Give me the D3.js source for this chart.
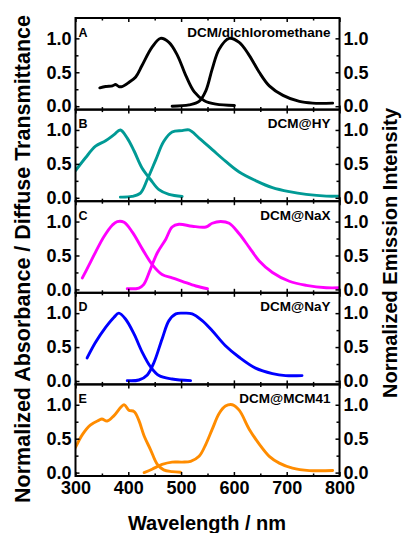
<!DOCTYPE html>
<html>
<head>
<meta charset="utf-8">
<script src="https://cdn.jsdelivr.net/npm/d3@7"></script>
<style>
    body { margin: 0; background: #fff; }
    text { font-family: "Liberation Sans", Arial, sans-serif; font-weight: bold; }
</style>
</head>
<body>
<div id="plot"></div>
<script>
// ---- data ----
var panelLetters = ["A", "B", "C", "D", "E"];
var panelNames = ["DCM/dichloromethane", "DCM@HY", "DCM@NaX", "DCM@NaY", "DCM@MCM41"];
var panelColors = ["#000000", "#009a95", "#ff00ff", "#0000ff", "#ff8c00"];

var xTicks = [300, 400, 500, 600, 700, 800];
var xMinorTicks = [350, 450, 550, 650, 750];
var yTicks = [0, 0.5, 1.0];
var yMinorTicks = [0.25, 0.75];

// absorbance / diffuse transmittance, [nm, value]
var absA = [[346, 0.27], [357, 0.29], [370, 0.30], [376, 0.32], [382, 0.29], [388, 0.29], [401, 0.35],
    [414, 0.43], [426, 0.60], [445, 0.87], [461, 1.0], [477, 0.94], [493, 0.75], [509, 0.45],
    [525, 0.21], [544, 0.08], [566, 0.03], [601, 0.01]];
var absB = [[300, 0.40], [319, 0.59], [338, 0.76], [357, 0.84], [373, 0.93], [385, 1.0], [398, 0.88],
    [411, 0.69], [426, 0.44], [442, 0.27], [458, 0.12], [477, 0.05], [502, 0.02]];
var absC = [[313, 0.17], [325, 0.35], [338, 0.55], [354, 0.78], [370, 0.95], [379, 1.0], [392, 0.99],
    [408, 0.84], [427, 0.59], [445, 0.37], [464, 0.22], [483, 0.17], [502, 0.12], [528, 0.05], [550, 0.01]];
var absD = [[322, 0.34], [338, 0.57], [357, 0.79], [373, 0.94], [382, 1.0], [395, 0.91], [411, 0.69],
    [426, 0.43], [442, 0.21], [458, 0.08], [483, 0.03], [518, 0.005]];
var absE = [[300, 0.37], [313, 0.56], [328, 0.70], [344, 0.77], [350, 0.79], [360, 0.76], [373, 0.84],
    [392, 1.0], [401, 0.92], [411, 0.90], [420, 0.77], [430, 0.54], [442, 0.34], [455, 0.12],
    [467, 0.04], [483, 0.015], [499, 0.005]];

// normalized emission intensity, [nm, value]
var emA = [[483, 0.0], [515, 0.02], [534, 0.07], [547, 0.23], [559, 0.55], [572, 0.84], [591, 1.0],
    [610, 0.94], [629, 0.75], [648, 0.50], [667, 0.30], [693, 0.16], [724, 0.07], [749, 0.045], [787, 0.045]];
var emB = [[385, 0.01], [407, 0.02], [423, 0.07], [436, 0.27], [452, 0.56], [467, 0.83], [483, 0.97],
    [502, 0.99], [515, 1.0], [534, 0.88], [559, 0.71], [584, 0.54], [610, 0.38], [642, 0.25],
    [673, 0.15], [705, 0.09], [737, 0.05], [775, 0.025], [800, 0.025]];
var emC = [[398, 0.01], [420, 0.02], [429, 0.07], [442, 0.30], [455, 0.54], [471, 0.74], [483, 0.92],
    [496, 0.96], [521, 0.93], [547, 0.92], [559, 0.975], [575, 1.0], [591, 0.975], [610, 0.82],
    [629, 0.62], [648, 0.42], [673, 0.25], [705, 0.12], [737, 0.06], [775, 0.025], [800, 0.025]];
var emD = [[398, 0.005], [420, 0.015], [436, 0.09], [449, 0.28], [464, 0.62], [477, 0.89], [490, 0.99],
    [505, 1.0], [521, 0.99], [540, 0.89], [559, 0.74], [584, 0.52], [610, 0.35], [641, 0.19],
    [673, 0.11], [698, 0.08], [729, 0.08]];
var emE = [[430, 0.0], [445, 0.05], [464, 0.12], [483, 0.155], [502, 0.155], [518, 0.165], [534, 0.24],
    [547, 0.42], [559, 0.64], [572, 0.87], [584, 0.98], [597, 1.0], [610, 0.92], [629, 0.64],
    [648, 0.42], [667, 0.24], [686, 0.14], [711, 0.065], [743, 0.03], [787, 0.03]];

var absSeries = [absA, absB, absC, absD, absE];
var emSeries = [emA, emB, emC, emD, emE];

// ---- workspace ----
var svgWidth = 402;
var svgHeight = 533;
var margin = { top: 18, left: 75.5 };
var width = 264;
var panelHeight = 91.6;

var svg = d3.select("#plot")
    .append("svg")
    .attr("width", svgWidth)
    .attr("height", svgHeight);

var xScale = d3.scaleLinear().domain([300, 800]).range([0, width]);
var yScale = d3.scaleLinear().domain([-0.05, 1.3]).range([panelHeight, 0]);

var lineGenerator = d3.line()
    .x(d => xScale(d[0]))
    .y(d => yScale(d[1]))
    .curve(d3.curveCatmullRom.alpha(0.5));

var fmt = d3.format(".1f");

panelLetters.forEach(function (letter, i) {
    var g = svg.append("g")
        .attr("transform", `translate(${margin.left}, ${margin.top + i * panelHeight})`);

    // clip so curves stay inside the frame
    g.append("clipPath").attr("id", "clip" + i)
        .append("rect").attr("width", width).attr("height", panelHeight);

    var curves = g.append("g").attr("clip-path", `url(#clip${i})`);
    [absSeries[i], emSeries[i]].forEach(function (s) {
        curves.append("path")
            .attr("d", lineGenerator(s))
            .attr("fill", "none")
            .attr("stroke", panelColors[i])
            .attr("stroke-width", 2.9)
            .attr("stroke-linejoin", "round")
            .attr("stroke-linecap", "round");
    });

    // axes, ticks pointing inward
    var left = g.append("g")
        .call(d3.axisLeft(yScale).tickValues(yTicks).tickFormat(fmt).tickSizeInner(-4).tickSizeOuter(0).tickPadding(4));
    var leftMinor = g.append("g")
        .call(d3.axisLeft(yScale).tickValues(yMinorTicks).tickFormat("").tickSizeInner(-3).tickSizeOuter(0));
    var right = g.append("g").attr("transform", `translate(${width},0)`)
        .call(d3.axisRight(yScale).tickValues(yTicks).tickFormat(fmt).tickSizeInner(-4).tickSizeOuter(0).tickPadding(4));
    var rightMinor = g.append("g").attr("transform", `translate(${width},0)`)
        .call(d3.axisRight(yScale).tickValues(yMinorTicks).tickFormat("").tickSizeInner(-3).tickSizeOuter(0));
    var top = g.append("g")
        .call(d3.axisTop(xScale).tickValues(xTicks).tickFormat("").tickSizeInner(-4).tickSizeOuter(0));
    var topMinor = g.append("g")
        .call(d3.axisTop(xScale).tickValues(xMinorTicks).tickFormat("").tickSizeInner(-2.5).tickSizeOuter(0));
    var bottom = g.append("g").attr("transform", `translate(0,${panelHeight})`)
        .call(d3.axisBottom(xScale).tickValues(xTicks).tickFormat(i === 4 ? d3.format("d") : "")
            .tickSizeInner(-4).tickSizeOuter(0).tickPadding(5));
    var bottomMinor = g.append("g").attr("transform", `translate(0,${panelHeight})`)
        .call(d3.axisBottom(xScale).tickValues(xMinorTicks).tickFormat("").tickSizeInner(-2.5).tickSizeOuter(0));

    [left, leftMinor, right, rightMinor, top, topMinor, bottom, bottomMinor].forEach(function (a) {
        a.select(".domain").remove();
        a.selectAll("line").attr("stroke", "#000").attr("stroke-width", 1.5);
        a.selectAll("text").attr("font-size", 18).attr("fill", "#000")
            .style("font-family", "'Liberation Sans', Arial, sans-serif").style("font-weight", "bold");
    });

    // frame
    g.append("rect")
        .attr("width", width)
        .attr("height", panelHeight)
        .attr("fill", "none")
        .attr("stroke", "#000")
        .attr("stroke-width", 2);

    // panel letter and sample name
    g.append("text")
        .attr("x", 3)
        .attr("y", 18.5)
        .attr("font-size", 12.5)
        .text(letter);
    g.append("text")
        .attr("x", width - 9)
        .attr("y", 18.5)
        .attr("text-anchor", "end")
        .attr("font-size", 13.5)
        .text(panelNames[i]);
});

// ---- titles ----
svg.append("text")
    .attr("transform", "translate(30, 259) rotate(-90)")
    .attr("text-anchor", "middle")
    .attr("font-size", 21.5)
    .text("Normalized Absorbance / Diffuse Transmittance");

svg.append("text")
    .attr("transform", "translate(397, 253) rotate(-90)")
    .attr("text-anchor", "middle")
    .attr("font-size", 20)
    .text("Normalized Emission Intensity");

svg.append("text")
    .attr("x", 207)
    .attr("y", 530)
    .attr("text-anchor", "middle")
    .attr("font-size", 20)
    .text("Wavelength / nm");
</script>
</body>
</html>
